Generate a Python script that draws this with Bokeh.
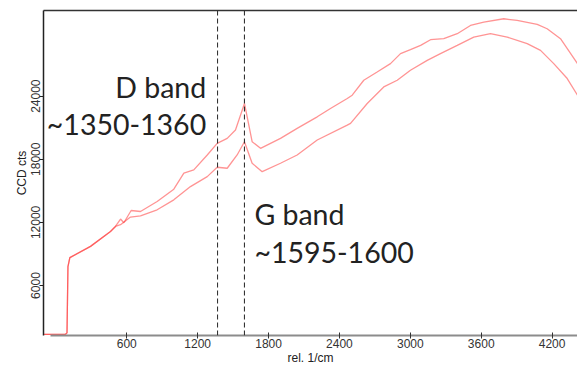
from bokeh.plotting import figure
from bokeh.models import Range1d, FixedTicker, LinearAxis, Span, Label
from bokeh.embed import file_html
from bokeh.resources import INLINE

# ---- data ----
start_shift = [-100, 81, 94, 102, 118, 293, 462, 504]
start_counts = [1360, 1360, 1500, 7800, 8650, 9723, 11143, 11617]

upper_shift = start_shift + [547, 575, 637, 716, 857, 998, 1083, 1167, 1281, 1365, 1450, 1520,
                             1596, 1661, 1732, 1901, 2042, 2212, 2324, 2466, 2508, 2606, 2719,
                             2832, 2917, 3001, 3087, 3171, 3283, 3397, 3509, 3622, 3791, 3904,
                             4074, 4158, 4271, 4415]
upper_counts = start_counts + [12318, 11967, 13132, 13038, 13985, 15159, 16675, 16987, 18408,
                               19516, 19990, 20776, 23305, 19668, 19042, 19990, 20937, 22036,
                               22831, 23778, 24091, 25512, 26298, 27093, 28040, 28419, 28827,
                               29366, 29461, 29935, 30721, 31034, 31356, 31195, 30816, 30408,
                               29461, 27093]

lower_shift = start_shift + [547, 631, 716, 857, 998, 1139, 1281, 1365, 1450, 1534, 1596, 1661,
                             1746, 1901, 2042, 2212, 2466, 2494, 2635, 2775, 2889, 3001, 3143,
                             3255, 3397, 3537, 3678, 3820, 3989, 4102, 4214, 4328, 4415]
lower_counts = start_counts + [11778, 12507, 12630, 13198, 14146, 15405, 16352, 17243, 17148,
                               18408, 19668, 17622, 16826, 17622, 18408, 19829, 21249, 21410,
                               23305, 24877, 25512, 26459, 27406, 28040, 28827, 29613, 29935,
                               29613, 28987, 28352, 27093, 25672, 24091]

band_lines = [1368, 1596]
x_ticks = [600, 1200, 1800, 2400, 3000, 3600, 4200]
y_ticks = [6000, 12000, 18000, 24000]

d_band_text = ["D band", "~1350-1360"]
g_band_text = ["G band", "~1595-1600"]

# ---- figure ----
p = figure(width=577, height=368,
           x_range=Range1d(-105, 4415), y_range=Range1d(1250, 32141),
           output_backend="svg", toolbar_location=None,
           min_border_left=43, min_border_right=0, min_border_top=10, min_border_bottom=33,
           background_fill_color="white", border_fill_color="white")
p.outline_line_color = None
p.xgrid.grid_line_color = None
p.ygrid.grid_line_color = None

label_font = "Liberation Sans"

xa = p.xaxis[0]
xa.ticker = FixedTicker(ticks=x_ticks)
xa.bounds = (-46, 4415)
xa.axis_line_color = "#8c8c8c"
xa.axis_line_width = 2
xa.major_tick_line_color = "#333333"
xa.major_tick_in = 3
xa.major_tick_out = 3
xa.minor_tick_line_color = None
xa.major_label_text_font = label_font
xa.major_label_text_font_size = "12px"
xa.major_label_text_color = "#333333"
xa.major_label_standoff = 0
xa.axis_label = "rel. 1/cm"
xa.axis_label_text_font = label_font
xa.axis_label_text_font_size = "12px"
xa.axis_label_text_font_style = "normal"
xa.axis_label_text_color = "#222222"
xa.axis_label_standoff = 0

ya = p.yaxis[0]
ya.ticker = FixedTicker(ticks=y_ticks)
ya.major_label_orientation = "vertical"
ya.axis_line_color = "#222222"
ya.axis_line_width = 1.5
ya.major_tick_line_color = "#222222"
ya.major_tick_in = 0
ya.major_tick_out = 4
ya.minor_tick_line_color = None
ya.major_label_text_font = label_font
ya.major_label_text_font_size = "12px"
ya.major_label_text_color = "#333333"
ya.major_label_standoff = -1
ya.axis_label = "CCD cts"
ya.axis_label_text_font = label_font
ya.axis_label_text_font_size = "12px"
ya.axis_label_text_font_style = "normal"
ya.axis_label_text_color = "#222222"
ya.axis_label_standoff = 0

top = LinearAxis(ticker=FixedTicker(ticks=[]), axis_line_color="#333333", axis_line_width=1.5,
                 major_tick_line_color=None, minor_tick_line_color=None,
                 major_label_text_font_size="0px")
p.add_layout(top, "above")

# spectra
p.line(upper_shift, upper_counts, line_color="#ff2a2a", line_alpha=0.5, line_width=1.3)
p.line(lower_shift, lower_counts, line_color="#ff2a2a", line_alpha=0.5, line_width=1.3)

# band markers
for loc in band_lines:
    p.add_layout(Span(location=loc, dimension="height", line_color="#333333",
                      line_dash="5 3", line_width=1.1))

text_kw = dict(text_font="Lato", text_font_size="28.5px", text_color="#222222",
               text_baseline="alphabetic")
p.add_layout(Label(x=1272, y=24917, text=d_band_text[0], text_align="right", **text_kw))
p.add_layout(Label(x=1272, y=21306, text=d_band_text[1], text_align="right", **text_kw))
p.add_layout(Label(x=1680, y=12818, text=g_band_text[0], text_align="left", **text_kw))
p.add_layout(Label(x=1680, y=9168, text=g_band_text[1], text_align="left", **text_kw))

open("out.html", "w").write(file_html(p, INLINE))
